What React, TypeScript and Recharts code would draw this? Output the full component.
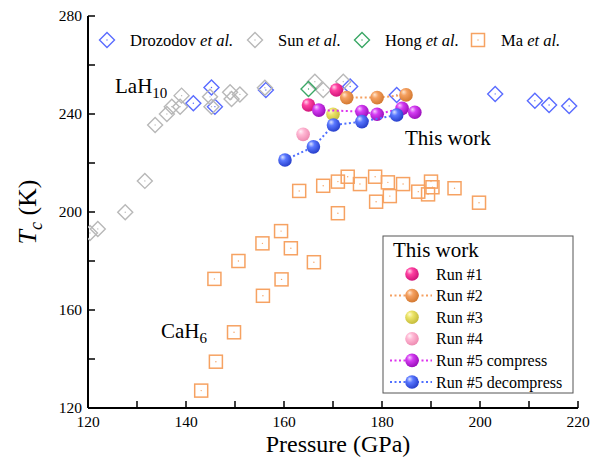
import React from 'react';
import { ScatterChart, Scatter, XAxis, YAxis, Legend } from 'recharts';

// literature data (pressure in GPa, Tc in K)
const drozdovP = [141.5, 145.2, 145.9, 156.3, 173.5, 183.0, 203.1, 211.2, 214.1, 218.2];
const drozdovTc = [244.4, 250.8, 243.0, 249.8, 251.2, 247.8, 248.2, 245.4, 243.7, 243.3];

const sunP = [120.4, 122.0, 127.6, 131.6, 133.7, 136.1, 137.1, 138.8, 139.1, 144.9, 145.2, 149.0, 149.3, 151.0, 156.1, 166.3, 168.0, 172.1];
const sunTc = [191.4, 193.1, 199.9, 212.7, 235.5, 240.0, 243.0, 243.0, 247.5, 247.0, 243.0, 248.9, 246.1, 248.0, 250.7, 253.2, 249.8, 253.2];

const hongP = [165.0];
const hongTc = [250.2];

const maP = [143.1, 146.1, 149.8, 155.7, 145.8, 159.5, 150.7, 166.1, 155.6, 161.4, 159.4, 171.0, 163.1, 168.0, 171.0, 173.0, 175.5, 178.6, 178.8, 181.2, 181.6, 184.3, 187.4, 189.4, 190.0, 190.3, 194.8, 199.8];
const maTc = [127.1, 138.9, 150.9, 165.8, 172.7, 172.5, 180.0, 179.5, 187.2, 185.2, 192.2, 199.5, 208.6, 210.7, 212.4, 214.4, 211.4, 214.4, 204.2, 212.1, 206.5, 211.4, 208.3, 207.2, 212.4, 210.1, 209.7, 203.8];

// this work
const run1P = [165.0, 170.7];
const run1Tc = [243.7, 249.8];
const run2P = [172.8, 179.0, 184.9];
const run2Tc = [246.7, 246.7, 247.8];
const run3P = [170.0];
const run3Tc = [239.9];
const run4P = [163.9];
const run4Tc = [231.7];
const run5cP = [167.1, 175.9, 179.0, 184.1, 186.7];
const run5cTc = [241.6, 241.0, 239.9, 242.3, 240.7];
const run5dP = [160.2, 166.0, 170.1, 175.9, 183.0];
const run5dTc = [221.2, 226.6, 235.5, 236.9, 239.6];

const xTicks = [120, 130, 140, 150, 160, 170, 180, 190, 200, 210, 220];
const yTicks = [120, 140, 160, 180, 200, 220, 240, 260, 280];

const zip = (p: number[], t: number[]) => p.map((v, i) => ({ p: v, tc: t[i] }));

const FONT = "'Liberation Serif', 'Times New Roman', serif";

const refSeries = [
  { name: 'Drozodov', color: '#5a6cff', kind: 'diamond', data: zip(drozdovP, drozdovTc) },
  { name: 'Sun', color: '#b8b8b8', kind: 'diamond', data: zip(sunP, sunTc) },
  { name: 'Hong', color: '#3aa765', kind: 'diamond', data: zip(hongP, hongTc) },
  { name: 'Ma', color: '#f6a262', kind: 'square', data: zip(maP, maTc) },
];

const runs = [
  { name: 'Run #1', id: 'g1', stops: ['#ffd6ec', '#ff42a2', '#d0157a'], line: null, data: zip(run1P, run1Tc) },
  { name: 'Run #2', id: 'g2', stops: ['#ffe6cf', '#f5a060', '#d47a32'], line: '#f5a060', data: zip(run2P, run2Tc) },
  { name: 'Run #3', id: 'g3', stops: ['#fffccc', '#ece468', '#c6bd3c'], line: null, data: zip(run3P, run3Tc) },
  { name: 'Run #4', id: 'g4', stops: ['#fff2f8', '#ffb8d4', '#ee8cb2'], line: null, data: zip(run4P, run4Tc) },
  { name: 'Run #5 compress', id: 'g5', stops: ['#f6ccff', '#d43cf2', '#9c10bc'], line: '#dd33ee', data: zip(run5cP, run5cTc) },
  { name: 'Run #5 decompress', id: 'g6', stops: ['#dce3ff', '#5a78ff', '#2840cc'], line: '#5070ff', data: zip(run5dP, run5dTc) },
];

const Diamond = (color: string) => (props: any) => {
  const { cx, cy } = props;
  if (cx == null || cy == null) return <g />;
  const s = 7.5;
  return (
    <g>
      <path d={`M${cx},${cy - s}L${cx + s},${cy}L${cx},${cy + s}L${cx - s},${cy}Z`} fill="none" stroke={color} strokeWidth={1.4} />
      <circle cx={cx} cy={cy} r={0.7} fill={color} />
    </g>
  );
};

const Square = (color: string) => (props: any) => {
  const { cx, cy } = props;
  if (cx == null || cy == null) return <g />;
  return (
    <g>
      <rect x={cx - 6.5} y={cy - 6.5} width={13} height={13} fill="none" stroke={color} strokeWidth={1.5} />
      <circle cx={cx} cy={cy} r={0.7} fill={color} />
    </g>
  );
};

const Sphere = (id: string) => (props: any) => {
  const { cx, cy } = props;
  if (cx == null || cy == null) return <g />;
  return <circle cx={cx} cy={cy} r={6.8} fill={`url(#${id})`} />;
};

const tickText = { fontFamily: FONT, fontSize: 15.5, fill: '#000' };

const BottomTick = (props: any) => {
  const { x, y, payload } = props;
  return (
    <g>
      <line x1={x} y1={y} x2={x} y2={y - 7} stroke="#000" strokeWidth={1.5} />
      {payload.value % 20 === 0 && (
        <text x={x} y={y + 19} textAnchor="middle" {...tickText}>{payload.value}</text>
      )}
    </g>
  );
};

const TopTick = (props: any) => {
  const { x, y } = props;
  return <line x1={x} y1={y} x2={x} y2={y + 7} stroke="#000" strokeWidth={1.5} />;
};

const LeftTick = (props: any) => {
  const { x, y, payload } = props;
  return (
    <g>
      <line x1={x} y1={y} x2={x + 7} y2={y} stroke="#000" strokeWidth={1.5} />
      {payload.value % 40 === 0 && (
        <text x={x - 6} y={y} dy="0.35em" textAnchor="end" {...tickText}>{payload.value}</text>
      )}
    </g>
  );
};

const RightTick = (props: any) => {
  const { x, y } = props;
  return <line x1={x} y1={y} x2={x - 7} y2={y} stroke="#000" strokeWidth={1.5} />;
};

const legendMarker = (s: any, x: number, y: number) =>
  s.kind === 'diamond' ? Diamond(s.color)({ cx: x, cy: y }) : Square(s.color)({ cx: x, cy: y });

const Overlay = () => (
  <svg width={602} height={464} style={{ position: 'absolute', left: 0, top: 0 }}>
    {/* top legend */}
    {refSeries.map((s, i) => {
      const ix = [107, 255, 362, 478][i];
      return (
        <g key={s.name}>
          {legendMarker(s, ix, 40)}
          <text x={ix + 23} y={40} dy="0.35em" fontFamily={FONT} fontSize={16.5}>
            {s.name} <tspan fontStyle="italic">et al.</tspan>
          </text>
        </g>
      );
    })}
    {/* annotations */}
    <text x={115} y={93} fontFamily={FONT} fontSize={21}>
      LaH<tspan fontSize={15} dy={5}>10</tspan>
    </text>
    <text x={161} y={338} fontFamily={FONT} fontSize={21}>
      CaH<tspan fontSize={15} dy={5}>6</tspan>
    </text>
    <text x={405} y={145} fontFamily={FONT} fontSize={21}>This work</text>
    {/* this work legend box */}
    <rect x={383} y={236} width={190} height={157} fill="#fff" stroke="#555" strokeWidth={1} />
    <text x={393} y={257} fontFamily={FONT} fontSize={21}>This work</text>
    {runs.map((r, i) => {
      const ly = 274 + i * 21.6;
      return (
        <g key={r.name}>
          {r.line && (
            <line x1={390} y1={ly} x2={432} y2={ly} stroke={r.line} strokeWidth={2} strokeDasharray="2 2.5" />
          )}
          {Sphere(r.id)({ cx: 412, cy: ly })}
          <text x={436} y={ly} dy="0.35em" fontFamily={FONT} fontSize={16}>{r.name}</text>
        </g>
      );
    })}
    {/* axis titles */}
    <text x={338} y={452} textAnchor="middle" fontFamily={FONT} fontSize={24}>Pressure (GPa)</text>
    <text transform="translate(36,212) rotate(-90)" textAnchor="middle" fontFamily={FONT} fontSize={26}>
      <tspan fontStyle="italic">T</tspan>
      <tspan fontStyle="italic" fontSize={18} dy={6}>c</tspan>
      <tspan dy={-6}> (K)</tspan>
    </text>
  </svg>
);

export default function App() {
  return (
    <div style={{ width: 602, height: 464, position: 'relative', background: '#fff' }}>
      <style>{'body{margin:0}'}</style>
      <ScatterChart width={602} height={464} margin={{ top: 16, right: 24, bottom: 0, left: 0 }}>
        <defs>
          {runs.map((r) => (
            <radialGradient key={r.id} id={r.id} cx="40%" cy="38%" r="62%" fx="32%" fy="28%">
              <stop offset="0%" stopColor={r.stops[0]} />
              <stop offset="38%" stopColor={r.stops[1]} />
              <stop offset="100%" stopColor={r.stops[2]} />
            </radialGradient>
          ))}
        </defs>
        <XAxis
          xAxisId="b"
          type="number"
          dataKey="p"
          domain={[120, 220]}
          ticks={xTicks}
          interval={0}
          allowDataOverflow
          height={56}
          tickSize={0}
          tickMargin={0}
          tickLine={false}
          tick={BottomTick}
          axisLine={{ stroke: '#000', strokeWidth: 2 }}
        />
        <XAxis
          xAxisId="t"
          orientation="top"
          type="number"
          dataKey="p"
          domain={[120, 220]}
          ticks={xTicks}
          interval={0}
          allowDataOverflow
          height={0}
          tickSize={0}
          tickMargin={0}
          tickLine={false}
          tick={TopTick}
          axisLine={{ stroke: '#000', strokeWidth: 2 }}
        />
        <YAxis
          yAxisId="l"
          type="number"
          dataKey="tc"
          domain={[120, 280]}
          ticks={yTicks}
          interval={0}
          allowDataOverflow
          width={88}
          tickSize={0}
          tickMargin={0}
          tickLine={false}
          tick={LeftTick}
          axisLine={{ stroke: '#000', strokeWidth: 2 }}
        />
        <YAxis
          yAxisId="r"
          orientation="right"
          type="number"
          dataKey="tc"
          domain={[120, 280]}
          ticks={yTicks}
          interval={0}
          allowDataOverflow
          width={0}
          tickSize={0}
          tickMargin={0}
          tickLine={false}
          tick={RightTick}
          axisLine={{ stroke: '#000', strokeWidth: 2 }}
        />
        {refSeries.map((s) => (
          <Scatter
            key={s.name}
            name={s.name}
            data={s.data}
            xAxisId="b"
            yAxisId="l"
            shape={s.kind === 'diamond' ? Diamond(s.color) : Square(s.color)}
            isAnimationActive={false}
          />
        ))}
        {runs.map((r) => (
          <Scatter
            key={r.name}
            name={r.name}
            data={r.data}
            xAxisId="b"
            yAxisId="l"
            shape={Sphere(r.id)}
            line={r.line ? { stroke: r.line, strokeWidth: 2, strokeDasharray: '2 2.5' } : false}
            isAnimationActive={false}
          />
        ))}
        <Scatter data={[]} xAxisId="t" yAxisId="r" isAnimationActive={false} legendType="none" />
        <Legend
          layout="horizontal"
          verticalAlign="middle"
          align="center"
          wrapperStyle={{ left: 0, top: 0, width: 602, height: 464, pointerEvents: 'none' }}
          content={() => <Overlay />}
        />
      </ScatterChart>
    </div>
  );
}
